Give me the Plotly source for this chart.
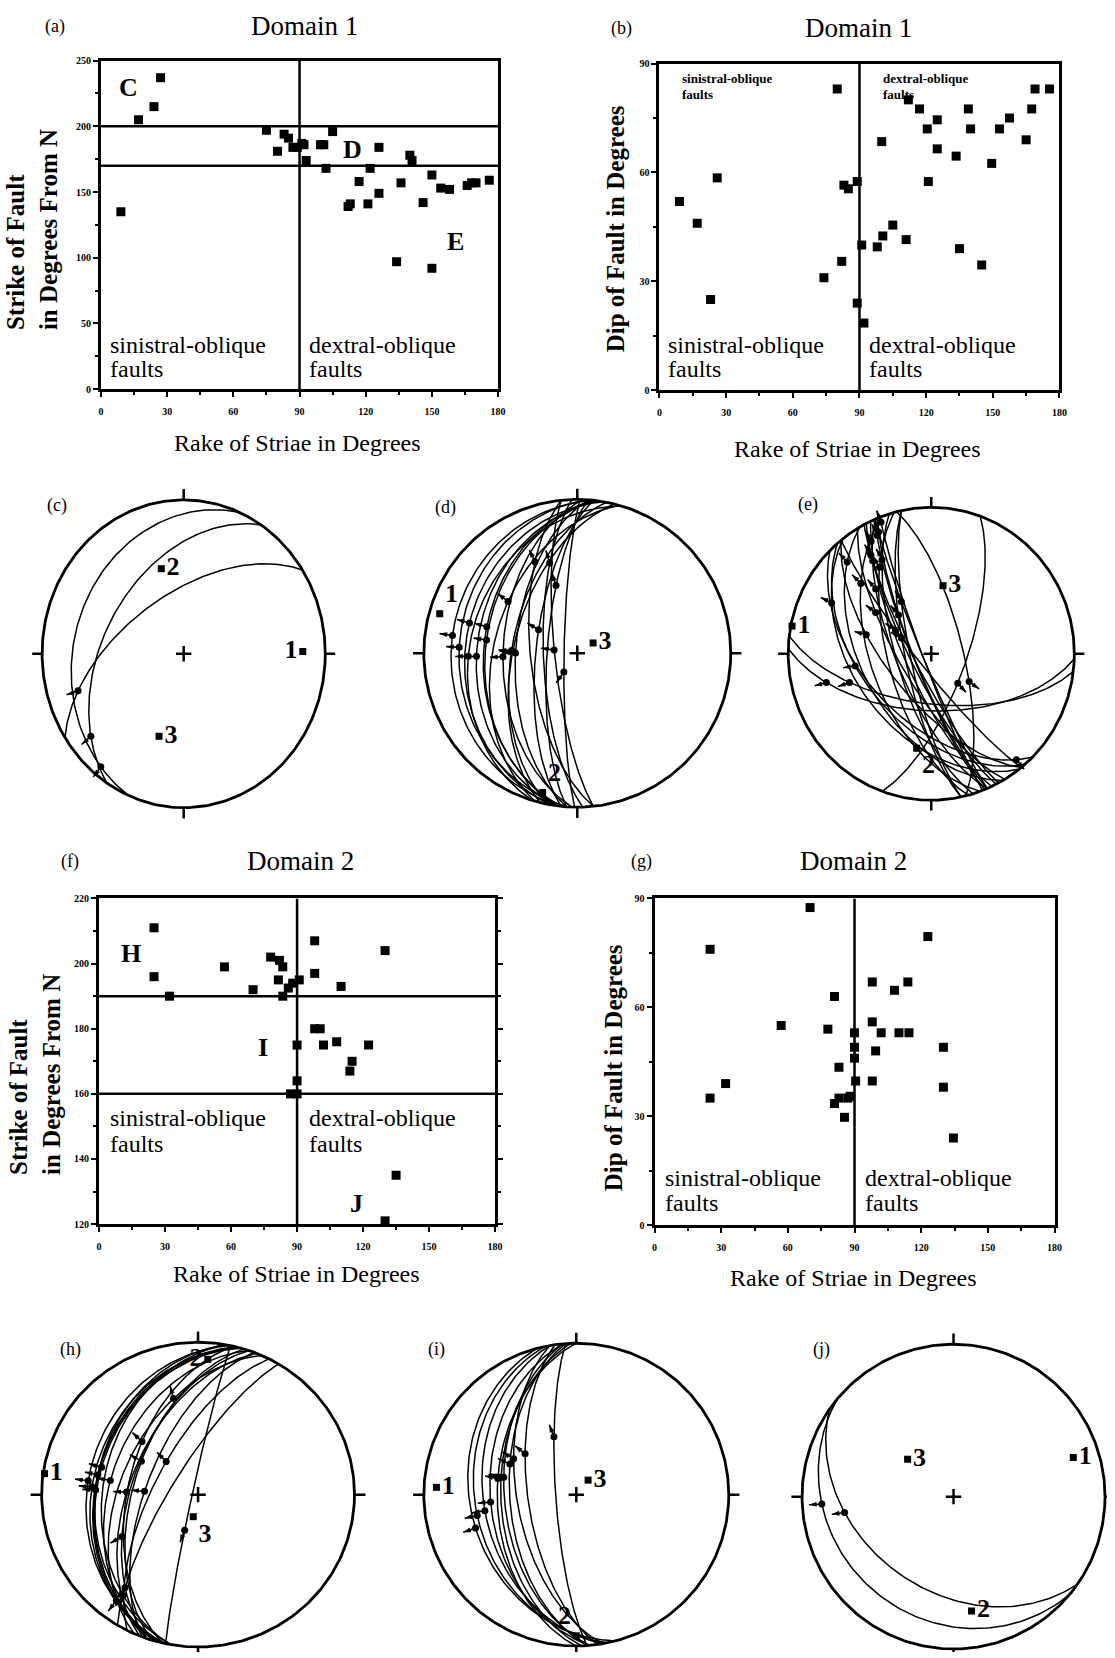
import numpy as np
import plotly.graph_objects as go

W, H = 1115, 1658
SERIF = "Liberation Serif"

# ---------------- scatter data ----------------
# (a) Domain 1: rake of striae vs strike of fault
a_rake = [9, 17, 24, 27, 75, 80, 83, 85, 87, 89, 91, 92, 93, 99.5, 101, 102, 105,
          112, 113, 117, 121, 122, 126, 126, 134, 136, 140, 141, 146, 150, 150,
          154, 158, 166, 168, 170, 176]
a_strike = [135, 205, 215, 237, 197, 181, 194, 191, 184, 184, 187, 186, 174, 186, 186, 168, 196,
            139, 141, 158, 141, 168, 184, 149, 97, 157, 178, 174, 142, 92, 163,
            153, 152, 155, 157, 157, 159]
# (b) Domain 1: rake vs dip
b_rake = [9, 17, 23, 26, 74, 80, 82, 83, 85, 89, 89, 91, 92, 98, 100, 100.5, 105, 111,
          112, 117, 120.5, 121, 125, 125, 133.5, 135, 139, 140, 145, 149.5, 153,
          157.5, 165, 167.5, 169, 175.5]
b_dip = [52, 46, 25, 58.5, 31, 83, 35.5, 56.5, 55.5, 57.5, 24, 40, 18.5, 39.5, 68.5, 42.5, 45.5, 41.5,
         80, 77.5, 72, 57.5, 74.5, 66.5, 64.5, 39, 77.5, 72, 34.5, 62.5, 72,
         75, 69, 77.5, 83, 83]
# (f) Domain 2: rake vs strike
f_rake = [25, 25, 32, 57, 70, 78, 82, 81.5, 83.5, 83.5, 86, 88, 91, 87, 90, 90, 90,
          98, 98, 98, 100.5, 102, 108, 110, 115, 114, 122.5, 130, 135, 130]
f_strike = [211, 196, 190, 199, 192, 202, 201, 195, 199, 190, 192.5, 194, 195, 160, 160, 164, 175,
            207, 197, 180, 180, 175, 176, 193, 170, 167, 175, 204, 135, 121]
# (g) Domain 2: rake vs dip
g_rake = [25, 25, 32, 57, 70, 78, 81, 83, 81, 83, 85.5, 87, 88, 90, 90, 90, 90.5,
          98, 98, 98, 99.5, 102, 108, 110, 114, 114.5, 123, 130, 130, 134.5]
g_dip = [76, 35, 39, 55, 87.5, 54, 63, 43.5, 33.5, 35, 29.7, 35, 35.5, 53, 49, 46, 39.7,
         56, 67, 39.7, 48, 53, 64.7, 53, 67, 53, 79.5, 49, 38, 24]

x_ticks = [0, 30, 60, 90, 120, 150, 180]

# ---------------- stereonet data (lower hemisphere, equal area) ----------------
c_strike = [203, 213, 237]
c_dip = [24, 44, 58]
c_rake = [17, 24, 27]
c_axis_trend = [89, 344, 198]
c_axis_plunge = [17, 42, 43]

d_strike = [197, 181, 194, 191, 184, 184, 187, 186, 174, 186, 186, 196, 184, 178, 174, 190, 182, 188]
d_dip = [31, 83, 56, 55, 57, 24, 40, 19, 78, 39, 68, 45, 74, 72, 65, 28, 50, 35]
d_rake = [74, 80, 83, 85, 88, 89, 91, 92, 93, 98, 100, 105, 125, 139, 141, 95, 87, 82]
d_axis_trend = [286, 194, 57]
d_axis_plunge = [7.5, 7.5, 80]

e_strike = [135, 168, 139, 141, 158, 141, 168, 149, 97, 157, 142, 92, 163, 153, 152, 155,
            157, 157, 159, 160, 150, 165, 346, 20]
e_dip = [52, 75, 50, 82, 80, 65, 78, 72, 62, 70, 45, 58, 70, 78, 80, 75,
         80, 85, 85, 55, 50, 65, 72, 70]
e_rake = [9, 102, 112, 113, 117, 121, 122, 126, 134, 136, 146, 150, 150, 154, 158, 166,
          168, 170, 176, 140, 160, 145, 110, 100]
e_axis_trend = [281, 189, 10]
e_axis_plunge = [1, 35, 51]

h_strike = [211, 196, 190, 199, 192, 202, 201, 195, 199, 190, 192, 194, 195, 207, 197, 193, 204]
h_dip = [76, 35, 39, 55, 87, 54, 63, 33, 43, 35, 30, 35, 36, 67, 56, 53, 49]
h_rake = [25, 25, 32, 57, 70, 78, 82, 81, 83, 84, 86, 88, 91, 98, 98, 110, 130]
h_axis_trend = [278, 4, 192]
h_axis_plunge = [1, 12, 78]

i_strike = [165, 168, 170, 175, 180, 178, 175, 176, 172, 170, 176]
i_dip = [31, 34, 39, 43, 47, 49, 51, 54, 64, 58, 79]
i_rake = [87, 90, 90, 90, 98, 100, 102, 108, 115, 114, 122]
i_axis_trend = [273, 180, 39]
i_axis_plunge = [9, 7.5, 80]

j_strike = [125, 130]
j_dip = [38, 20]
j_rake = [130, 135]
j_axis_trend = [72, 171, 309]
j_axis_plunge = [18, 25, 58]

axis_names = ["1", "2", "3"]

fig = go.Figure()


def fx(px):
    return px / W


def fy(py):
    return 1 - py / H


def ptext(text, x, y, size, bold=False, xanchor="center", yanchor="middle", angle=0, align="center"):
    fig.add_annotation(text=text, x=fx(x), y=fy(y), xref="paper", yref="paper", showarrow=False,
                       xanchor=xanchor, yanchor=yanchor, textangle=angle, align=align,
                       font=dict(family=SERIF, size=size, color="black",
                                 weight="bold" if bold else "normal"))


shapes = []


def scatter_panel(n, xdata, ydata, box, yrange, ydtick, yminor, hlines, ymirror=True):
    xid = "x" if n == 1 else f"x{n}"
    yid = "y" if n == 1 else f"y{n}"
    xa = "xaxis" if n == 1 else f"xaxis{n}"
    ya = "yaxis" if n == 1 else f"yaxis{n}"
    left, right, top, bottom = box
    fig.add_trace(go.Scatter(x=xdata, y=ydata, mode="markers", xaxis=xid, yaxis=yid,
                             cliponaxis=False, hoverinfo="x+y",
                             marker=dict(symbol="square", size=9, color="black")))
    common = dict(showline=True, linewidth=3, linecolor="black", showgrid=False, zeroline=False,
                  ticks="outside", ticklen=5, tickwidth=2, tickcolor="black",
                  tickfont=dict(family=SERIF, size=10, color="black", weight="bold"))
    fig.update_layout({
        xa: dict(domain=[fx(left), fx(right)], range=[0, 180], anchor=yid, tickmode="array",
                 tickvals=x_ticks, mirror=True, ticklabelstandoff=6,
                 minor=dict(tickmode="array", tickvals=[15, 45, 75, 105, 135, 165],
                            ticks="outside", ticklen=3, tickwidth=1.5, tickcolor="black"),
                 **common),
        ya: dict(domain=[fy(bottom), fy(top)], range=yrange, anchor=xid, tick0=yrange[0],
                 dtick=ydtick, mirror="ticks" if ymirror == "ticks" else True,
                 minor=dict(tick0=yrange[0], dtick=yminor, ticks="outside", ticklen=3,
                            tickwidth=1.5, tickcolor="black"),
                 **common),
    })
    shapes.append(dict(type="line", xref=xid, yref=yid, x0=90, x1=90, y0=yrange[0], y1=yrange[1],
                       line=dict(color="black", width=2.5)))
    for hv in hlines:
        shapes.append(dict(type="line", xref=xid, yref=yid, x0=0, x1=180, y0=hv, y1=hv,
                           line=dict(color="black", width=2.5)))


scatter_panel(1, a_rake, a_strike, (99, 500, 55, 386), [0, 250], 50, 25, [200, 170])
scatter_panel(2, b_rake, b_dip, (663, 1067, 58, 387), [0, 90], 30, 15, [])
scatter_panel(3, f_rake, f_strike, (97, 497, 899, 1227), [120, 220], 20, 10, [190, 160], ymirror="ticks")
scatter_panel(4, g_rake, g_dip, (658, 1062, 899, 1228), [0, 90], 30, 15, [])

# ---- text of the scatter panels ----
for (tx, ty, lab, lx, ly, dom) in [(304, 20, "Domain 1", 53, 21, "(a)"), (864, 22, "Domain 1", 625, 23, "(b)"),
                                   (300, 861, "Domain 2", 68, 862, "(f)"), (859, 861, "Domain 2", 645, 862, "(g)")]:
    ptext(lab, tx, ty, 27)
    ptext(dom, lx, ly, 18)

for (cx, cy) in [(297, 440), (863, 446), (296, 1277), (859, 1281)]:
    ptext("Rake of Striae in Degrees", cx, cy, 24)

ptext("Strike of Fault<br>in Degrees From N", 30, 225, 25, bold=True, angle=-90, align="left")
ptext("Strike of Fault<br>in Degrees From N", 33, 1076, 25, bold=True, angle=-90, align="left")
ptext("Dip of Fault in Degrees", 618, 224, 25, bold=True, angle=-90)
ptext("Dip of Fault in Degrees", 616, 1069, 25, bold=True, angle=-90)

for (lx, y1, y2) in [(106, 341, 366), (670, 341, 366), (106, 1120, 1146), (667, 1181, 1206)]:
    ptext("sinistral-oblique", lx, y1, 24, xanchor="left")
    ptext("faults", lx, y2, 24, xanchor="left")
for (lx, y1, y2) in [(307, 341, 366), (873, 341, 366), (307, 1120, 1146), (869, 1181, 1206)]:
    ptext("dextral-oblique", lx, y1, 24, xanchor="left")
    ptext("faults", lx, y2, 24, xanchor="left")

ptext("sinistral-oblique", 684, 73, 13, bold=True, xanchor="left")
ptext("faults", 684, 89, 13, bold=True, xanchor="left")
ptext("dextral-oblique", 887, 73, 13, bold=True, xanchor="left")
ptext("faults", 887, 89, 13, bold=True, xanchor="left")

for (t, x, y) in [("C", 127, 82), ("D", 353, 145), ("E", 457, 237),
                  ("H", 129, 954), ("I", 263, 1049), ("J", 357, 1206)]:
    ptext(t, x, y, 26, bold=True)


# ---------------- stereonets ----------------
def project(L):
    L = np.atleast_2d(L)
    pl = np.arcsin(np.clip(L[:, 2], -1, 1))
    tr = np.arctan2(L[:, 0], L[:, 1])
    r = np.sqrt(2) * np.sin((np.pi / 2 - pl) / 2)
    return r * np.sin(tr), r * np.cos(tr), np.degrees(tr)


def plane_vectors(strike, dip):
    s = np.radians(strike)
    d = np.radians(dip)
    S = np.array([np.sin(s), np.cos(s), 0.0])
    dd = s + np.pi / 2
    D = np.array([np.cos(d) * np.sin(dd), np.cos(d) * np.cos(dd), np.sin(d)])
    return S, D


def stereonet(n, cx, cy, rx, ry, strikes, dips, rakes, a_tr, a_pl, textpos, panel, lab_xy):
    pad = 1.12
    x0 = max(cx - pad * rx, 0)
    x1 = min(cx + pad * rx, W)
    ytop = max(cy - pad * ry, 0)
    ybot = min(cy + pad * ry, H)
    xid, yid = f"x{n}", f"y{n}"
    fig.update_layout({
        f"xaxis{n}": dict(domain=[fx(x0), fx(x1)], range=[(x0 - cx) / rx, (x1 - cx) / rx],
                          anchor=yid, visible=False),
        f"yaxis{n}": dict(domain=[fy(ybot), fy(ytop)], range=[(cy - ybot) / ry, (cy - ytop) / ry],
                          anchor=xid, visible=False),
    })
    kw = dict(xaxis=xid, yaxis=yid, cliponaxis=False, hoverinfo="skip")
    # great circles
    gx, gy = [], []
    rk = np.radians(np.linspace(0, 180, 121))
    for s, d in zip(strikes, dips):
        S, D = plane_vectors(s, d)
        L = np.outer(np.cos(rk), S) + np.outer(np.sin(rk), D)
        px, py, _ = project(L)
        gx += list(px) + [None]
        gy += list(py) + [None]
    fig.add_trace(go.Scatter(x=gx, y=gy, mode="lines", line=dict(color="black", width=1.5), **kw))
    # primitive circle
    t = np.linspace(0, 2 * np.pi, 361)
    fig.add_trace(go.Scatter(x=np.cos(t), y=np.sin(t), mode="lines",
                             line=dict(color="black", width=2.8), **kw))
    # N, E, S, W ticks
    tx, ty = [], []
    for ang in [0, 90, 180, 270]:
        a = np.radians(ang)
        tx += [np.sin(a), 1.07 * np.sin(a), None]
        ty += [np.cos(a), 1.07 * np.cos(a), None]
    fig.add_trace(go.Scatter(x=tx, y=ty, mode="lines", line=dict(color="black", width=2.5), **kw))
    # centre cross
    fig.add_trace(go.Scatter(x=[0], y=[0], mode="markers",
                             marker=dict(symbol="cross-thin", size=11, line=dict(color="black", width=2.5)), **kw))
    # striae: dot on the plane + outward arrow
    dxs, dys, sx, sy, hx, hy, ha = [], [], [], [], [], [], []
    for s, d, r in zip(strikes, dips, rakes):
        S, D = plane_vectors(s, d)
        rr = np.radians(r)
        L = np.cos(rr) * S + np.sin(rr) * D
        px, py, tr = project(L)
        px, py, tr = px[0], py[0], tr[0]
        dxs.append(px)
        dys.append(py)
        u = np.array([np.sin(np.radians(tr)), np.cos(np.radians(tr))])
        tipx, tipy = px + 0.085 * u[0], py + 0.085 * u[1]
        sx += [px, tipx, None]
        sy += [py, tipy, None]
        hx.append(tipx)
        hy.append(tipy)
        ha.append(tr % 360)
    fig.add_trace(go.Scatter(x=sx, y=sy, mode="lines", line=dict(color="black", width=1.6), **kw))
    fig.add_trace(go.Scatter(x=hx, y=hy, mode="markers",
                             marker=dict(symbol="arrow", size=8, angle=ha, color="black"), **kw))
    fig.add_trace(go.Scatter(x=dxs, y=dys, mode="markers",
                             marker=dict(symbol="circle", size=7, color="black"), **kw))
    # principal axes 1, 2, 3
    trr = np.radians(a_tr)
    plr = np.radians(a_pl)
    L = np.stack([np.sin(trr) * np.cos(plr), np.cos(trr) * np.cos(plr), np.sin(plr)], axis=1)
    ax_x, ax_y, _ = project(L)
    fig.add_trace(go.Scatter(x=ax_x, y=ax_y, mode="markers+text", text=axis_names, textposition=textpos,
                             textfont=dict(family=SERIF, size=26, color="black", weight="bold"),
                             marker=dict(symbol="square", size=7, color="black"), **kw))
    ptext(panel, lab_xy[0], lab_xy[1], 18)


stereonet(5, 182.5, 652.5, 143, 155, c_strike, c_dip, c_rake, c_axis_trend, c_axis_plunge,
          ["middle left", "middle right", "middle right"], "(c)", (55, 503))
stereonet(6, 580, 652, 155, 155, d_strike, d_dip, d_rake, d_axis_trend, d_axis_plunge,
          ["top right", "top right", "middle right"], "(d)", (447, 505))
stereonet(7, 937.5, 652.5, 144.5, 147.5, e_strike, e_dip, e_rake, e_axis_trend, e_axis_plunge,
          ["middle right", "bottom right", "middle right"], "(e)", (813, 502))
stereonet(8, 197, 1499.5, 158, 153.5, h_strike, h_dip, h_rake, h_axis_trend, h_axis_plunge,
          ["middle right", "middle left", "bottom right"], "(h)", (68, 1353))
stereonet(9, 579, 1499.5, 154, 152.5, i_strike, i_dip, i_rake, i_axis_trend, i_axis_plunge,
          ["middle right", "top left", "middle right"], "(i)", (438, 1353))
stereonet(10, 960, 1501.5, 153, 153.5, j_strike, j_dip, j_rake, j_axis_trend, j_axis_plunge,
          ["middle right", "middle right", "middle right"], "(j)", (827, 1353))

fig.update_layout(width=W, height=H, margin=dict(l=0, r=0, t=0, b=0), showlegend=False,
                  paper_bgcolor="white", plot_bgcolor="white", shapes=shapes)

fig.write_html("out.html")
